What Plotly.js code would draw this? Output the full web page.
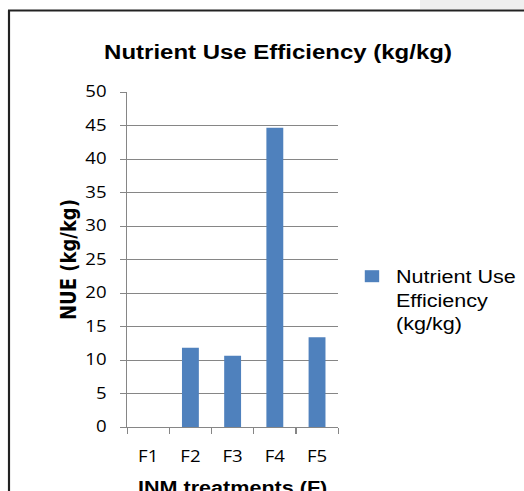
<!DOCTYPE html>
<html><head><meta charset="utf-8">
<script src="https://cdn.plot.ly/plotly-3.0.1.min.js"></script>
<style>
html,body{margin:0;padding:0;width:524px;height:491px;overflow:hidden;background:#fff;}
#wrap{width:437px;height:491px;overflow:hidden;transform:scaleX(1.19908);transform-origin:0 0;}
</style></head><body>
<div id="wrap"><div id="chart" style="width:437px;height:520px"></div></div>
<script>
// ---- data ----
const categories = ['F1', 'F2', 'F3', 'F4', 'F5'];
const nueValues = [0, 11.83, 10.63, 44.65, 13.38];
const seriesName = 'Nutrient Use<br>Efficiency<br>(kg/kg)';
const chartTitle = 'Nutrient Use Efficiency (kg/kg)';
const xTitle = 'INM treatments (F)';
const yTitle = 'NUE (kg/kg)';
const yTickValues = [0, 5, 10, 15, 20, 25, 30, 35, 40, 45, 50];

// ---- geometry helpers (layout only) ----
const SX = 524 / 437;
const W = 437, H = 520, L = 106, R = 155, T = 92, B = 93;
const PW = W - L - R, PH = H - T - B;
const pxX = px => (px / SX - L) / PW;
const pxY = py => (H - B - py) / PH;
const cX = px => px / 524;
const cY = py => 1 - py / H;

const gray = '#868686';

const trace = {
  type: 'bar',
  x: categories,
  y: nueValues,
  name: seriesName,
  marker: {color: '#4f81bd'},
  showlegend: true,
  hoverinfo: 'none'
};

const layout = {
  width: W, height: H,
  margin: {l: L, r: R, t: T, b: B, autoexpand: false},
  paper_bgcolor: '#ffffff',
  plot_bgcolor: '#ffffff',
  bargap: 0.6,
  showlegend: true,
  title: {
    text: chartTitle,
    font: {family: 'Liberation Sans, Arial, sans-serif', size: 20, color: '#000', weight: 'bold'},
    x: cX(278), xref: 'container', xanchor: 'center',
    y: cY(52), yref: 'container', yanchor: 'middle'
  },
  xaxis: {
    type: 'category',
    showline: true, linecolor: gray, linewidth: 1,
    ticks: 'outside', tickson: 'boundaries', ticklen: 6, tickcolor: gray,
    tickfont: {family: 'Open Sans, sans-serif', size: 15.5, color: '#000'},
    ticklabelstandoff: 15,
    showgrid: false, zeroline: false,
    title: {text: xTitle, font: {family: 'Liberation Sans, Arial, sans-serif', size: 18, color: '#000', weight: 'bold'}, standoff: 15}
  },
  yaxis: {
    range: [0, 50],
    tickmode: 'array', tickvals: yTickValues, ticktext: yTickValues.map(String),
    showline: true, linecolor: gray, linewidth: 1,
    showgrid: true, gridcolor: gray, gridwidth: 1,
    zeroline: false,
    ticks: 'outside', ticklen: 5, tickcolor: gray,
    tickfont: {family: 'Open Sans, sans-serif', size: 15.5, color: '#000'},
    ticklabelstandoff: 8,
    title: {text: yTitle, font: {family: 'DejaVu Sans, sans-serif', size: 18, color: '#000', weight: 'bold'}, standoff: 2}
  },
  legend: {
    xref: 'container', yref: 'container',
    x: cX(348), xanchor: 'left',
    y: cY(258), yanchor: 'top',
    valign: 'top',
    bgcolor: 'rgba(0,0,0,0)',
    font: {family: 'Liberation Sans, Arial, sans-serif', size: 18, color: '#000'}
  },
  shapes: [
    {type: 'rect', xref: 'paper', yref: 'paper', layer: 'below',
     x0: pxX(420), x1: pxX(530), y0: pxY(9.3), y1: pxY(-10),
     fillcolor: '#efefef', line: {width: 0}},
    {type: 'line', xref: 'paper', yref: 'paper', layer: 'below',
     x0: pxX(9), x1: pxX(9), y0: pxY(560), y1: pxY(10.5),
     line: {color: '#222', width: 1.8}},
    {type: 'line', xref: 'paper', yref: 'paper', layer: 'below',
     x0: pxX(8), x1: pxX(540), y0: pxY(10.5), y1: pxY(10.5),
     line: {color: '#222', width: 1.8}}
  ]
};

Plotly.newPlot('chart', [trace], layout, {staticPlot: true, displayModeBar: false});
</script>
</body></html>
